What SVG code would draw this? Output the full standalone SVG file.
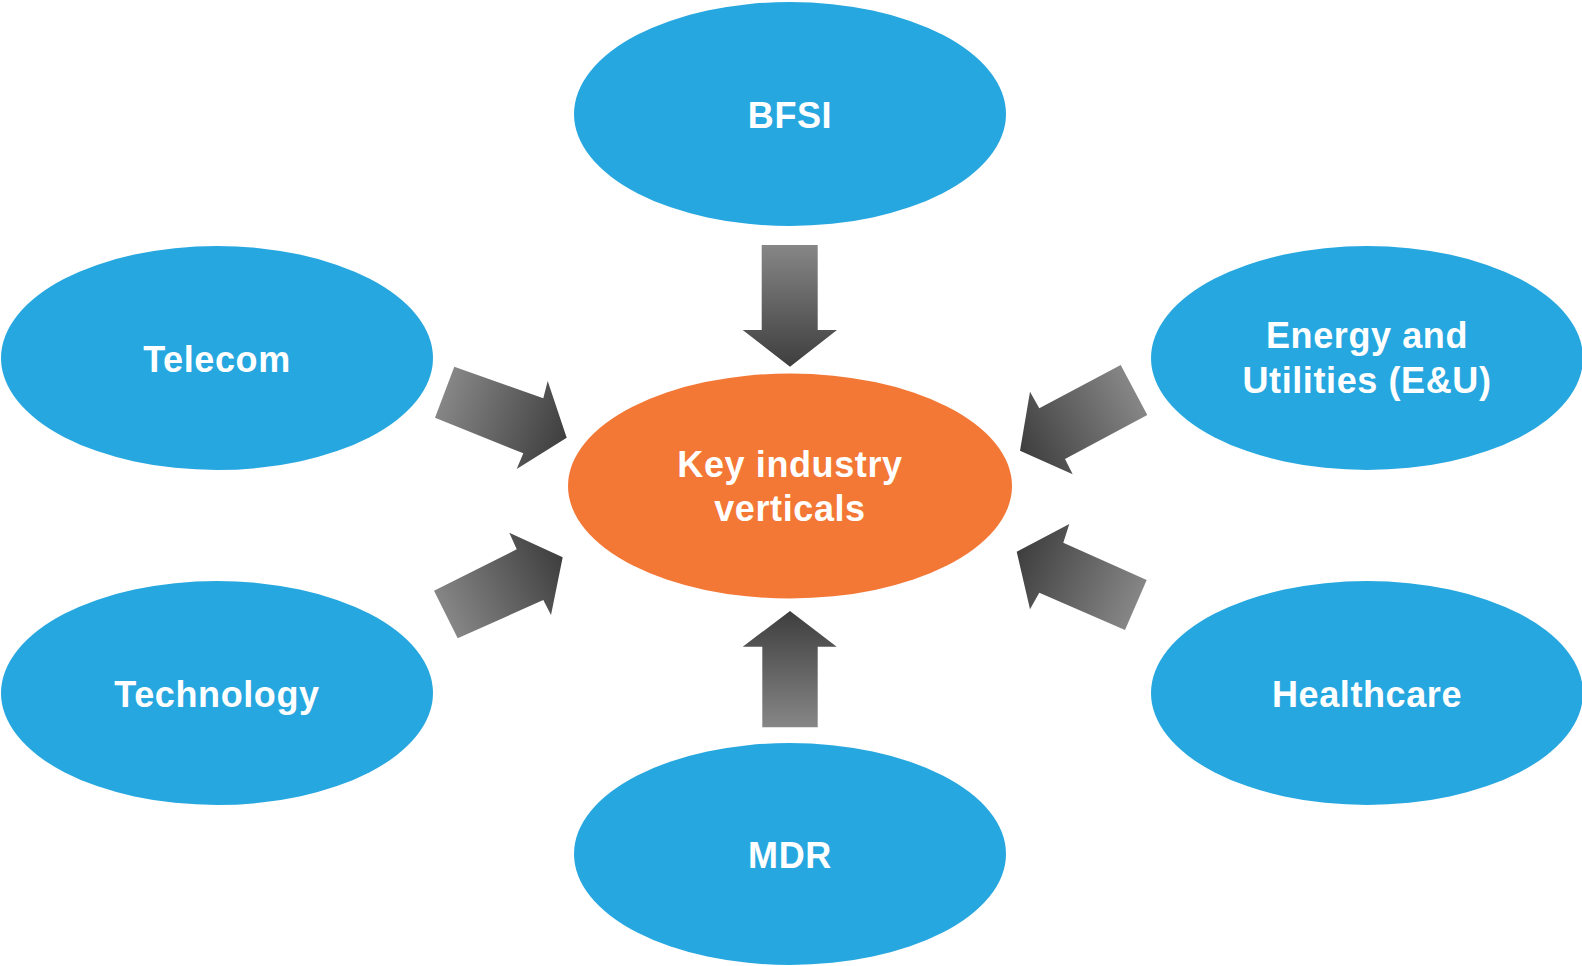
<svg xmlns="http://www.w3.org/2000/svg" width="1582" height="966" viewBox="0 0 1582 966">
<style>
.n{fill:#27A7DF}
.c{fill:#F37735}
.t{font-family:"Liberation Sans",Arial,sans-serif;font-weight:bold;font-size:36px;fill:#FFFFFF;text-anchor:middle;letter-spacing:0.6px}
</style>
<defs>
<linearGradient id="gTop" gradientUnits="userSpaceOnUse" x1="790" y1="245" x2="790" y2="367"><stop offset="0" stop-color="#868686"/><stop offset="1" stop-color="#3E3E3E"/></linearGradient>
<linearGradient id="gBot" gradientUnits="userSpaceOnUse" x1="790" y1="727" x2="790" y2="611"><stop offset="0" stop-color="#868686"/><stop offset="1" stop-color="#3E3E3E"/></linearGradient>
<linearGradient id="gTel" gradientUnits="userSpaceOnUse" x1="445" y1="392" x2="567" y2="438"><stop offset="0" stop-color="#868686"/><stop offset="1" stop-color="#3E3E3E"/></linearGradient>
<linearGradient id="gTec" gradientUnits="userSpaceOnUse" x1="446" y1="615" x2="563" y2="557"><stop offset="0" stop-color="#868686"/><stop offset="1" stop-color="#3E3E3E"/></linearGradient>
<linearGradient id="gEne" gradientUnits="userSpaceOnUse" x1="1134" y1="390" x2="1020" y2="451"><stop offset="0" stop-color="#868686"/><stop offset="1" stop-color="#3E3E3E"/></linearGradient>
<linearGradient id="gHea" gradientUnits="userSpaceOnUse" x1="1136" y1="605" x2="1017" y2="552"><stop offset="0" stop-color="#868686"/><stop offset="1" stop-color="#3E3E3E"/></linearGradient>
</defs>
<rect width="1582" height="966" fill="#FFFFFF"/>
<g id="connectors">
<polygon fill="url(#gTop)" points="761.7,245 817.7,245 817.7,330 837,330 790,366.7 742.7,330 761.7,330"/>
<polygon fill="url(#gBot)" points="762.3,727.3 817.7,727.3 817.7,646.7 836.7,646.7 790,611 742.7,646.7 762.3,646.7"/>
<polygon fill="url(#gTel)" points="454.3,366.7 543.3,398.3 547.7,381 566.7,437.7 516.7,469 523.3,453.3 435,417.7"/>
<polygon fill="url(#gTec)" points="434,590.7 516.7,549.3 509.3,532.7 562.7,557.3 551,615 543.3,600 457.7,638.3"/>
<polygon fill="url(#gEne)" points="1120.7,365 1147.3,415 1065,459 1072.7,474.3 1020,450.7 1030,391.7 1039.3,408.3"/>
<polygon fill="url(#gHea)" points="1146.7,580 1125,630 1039.3,592.7 1030,609.3 1016.7,551.7 1069.3,524 1063.3,542.7"/>
</g>
<g id="center">
<ellipse class="c" cx="790" cy="486" rx="222" ry="112.5"/>
<text class="t" x="790" y="477">Key industry</text>
<text class="t" x="790" y="521">verticals</text>
</g>
<g id="bfsi">
<ellipse class="n" cx="790" cy="114" rx="216" ry="112"/>
<text class="t" x="790" y="128">BFSI</text>
</g>
<g id="telecom">
<ellipse class="n" cx="217" cy="358" rx="216" ry="112"/>
<text class="t" x="217" y="372">Telecom</text>
</g>
<g id="energy">
<ellipse class="n" cx="1367" cy="358" rx="216" ry="112"/>
<text class="t" x="1367" y="348">Energy and</text>
<text class="t" x="1367" y="393">Utilities (E&amp;U)</text>
</g>
<g id="technology">
<ellipse class="n" cx="217" cy="693" rx="216" ry="112"/>
<text class="t" x="217" y="707">Technology</text>
</g>
<g id="healthcare">
<ellipse class="n" cx="1367" cy="693" rx="216" ry="112"/>
<text class="t" x="1367" y="707">Healthcare</text>
</g>
<g id="mdr">
<ellipse class="n" cx="790" cy="854" rx="216" ry="111"/>
<text class="t" x="790" y="868">MDR</text>
</g>
</svg>
